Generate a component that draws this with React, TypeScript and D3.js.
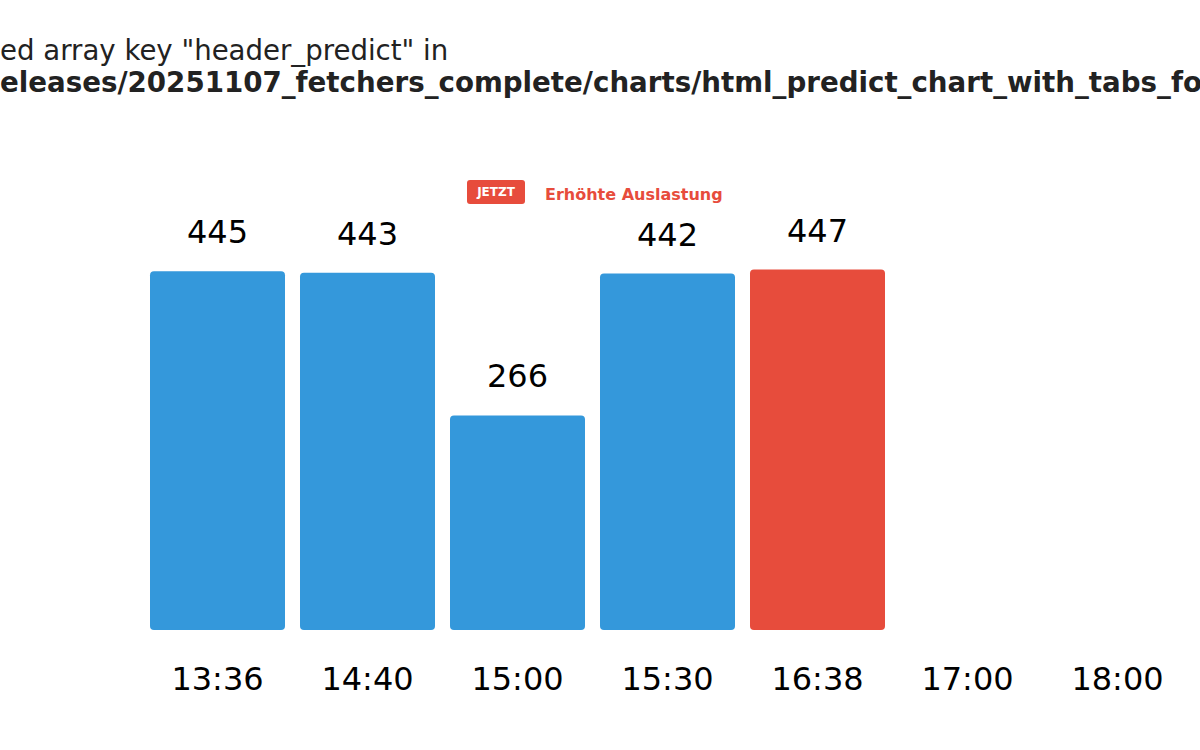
import React from "react";
import * as d3 from "d3";

const categories = ["13:36", "14:40", "15:00", "15:30", "16:38", "17:00", "18:00"];
const values: (number | null)[] = [445, 443, 266, 442, 447, null, null];
const highlightIndex = 4;
const headerLine1 = 'ed array key "header_predict" in';
const headerLine2 = "eleases/20251107_fetchers_complete/charts/html_predict_chart_with_tabs_fo";
const badgeText = "JETZT";
const legendText = "Erhöhte Auslastung";

const W = 1200;
const H = 750;
const FONT = "DejaVu Sans, sans-serif";

export default function App() {
  const x = d3.scaleBand<string>().domain(categories).range([142.5, 1192.5]).paddingInner(0.1).paddingOuter(0.05);
  const y = d3.scaleLinear().domain([0, 496]).range([630, 230]);

  return (
    <svg width={W} height={H} style={{ position: "absolute", left: 0, top: 0, background: "#fff" }}>
      <text x={0} y={60} fontFamily={FONT} fontSize={27.6} fill="#222">{headerLine1}</text>
      <text x={0} y={92} fontFamily={FONT} fontSize={27.7} fontWeight="bold" fill="#222">{headerLine2}</text>

      <rect x={467} y={180} width={58} height={24} rx={3} fill="#e74c3c" />
      <text x={496} y={196} textAnchor="middle" fontFamily={FONT} fontSize={12} fontWeight="bold" fill="#fff">{badgeText}</text>
      <text x={545} y={200} fontFamily={FONT} fontSize={16} fontWeight="bold" fill="#e74c3c">{legendText}</text>

      {categories.map((c, i) => {
        const v = values[i];
        const bx = x(c)!;
        const bw = x.bandwidth();
        const cx = bx + bw / 2;
        return (
          <g key={c}>
            {v != null && (
              <>
                <rect x={bx} y={y(v)} width={bw} height={y(0) - y(v)} rx={4} fill={i === highlightIndex ? "#e74c3c" : "#3498db"} />
                <text x={cx} y={y(v) - 28} textAnchor="middle" fontFamily={FONT} fontSize={32} fill="#000">{v}</text>
              </>
            )}
            <text x={cx} y={690} textAnchor="middle" fontFamily={FONT} fontSize={32} fill="#000">{c}</text>
          </g>
        );
      })}
    </svg>
  );
}
